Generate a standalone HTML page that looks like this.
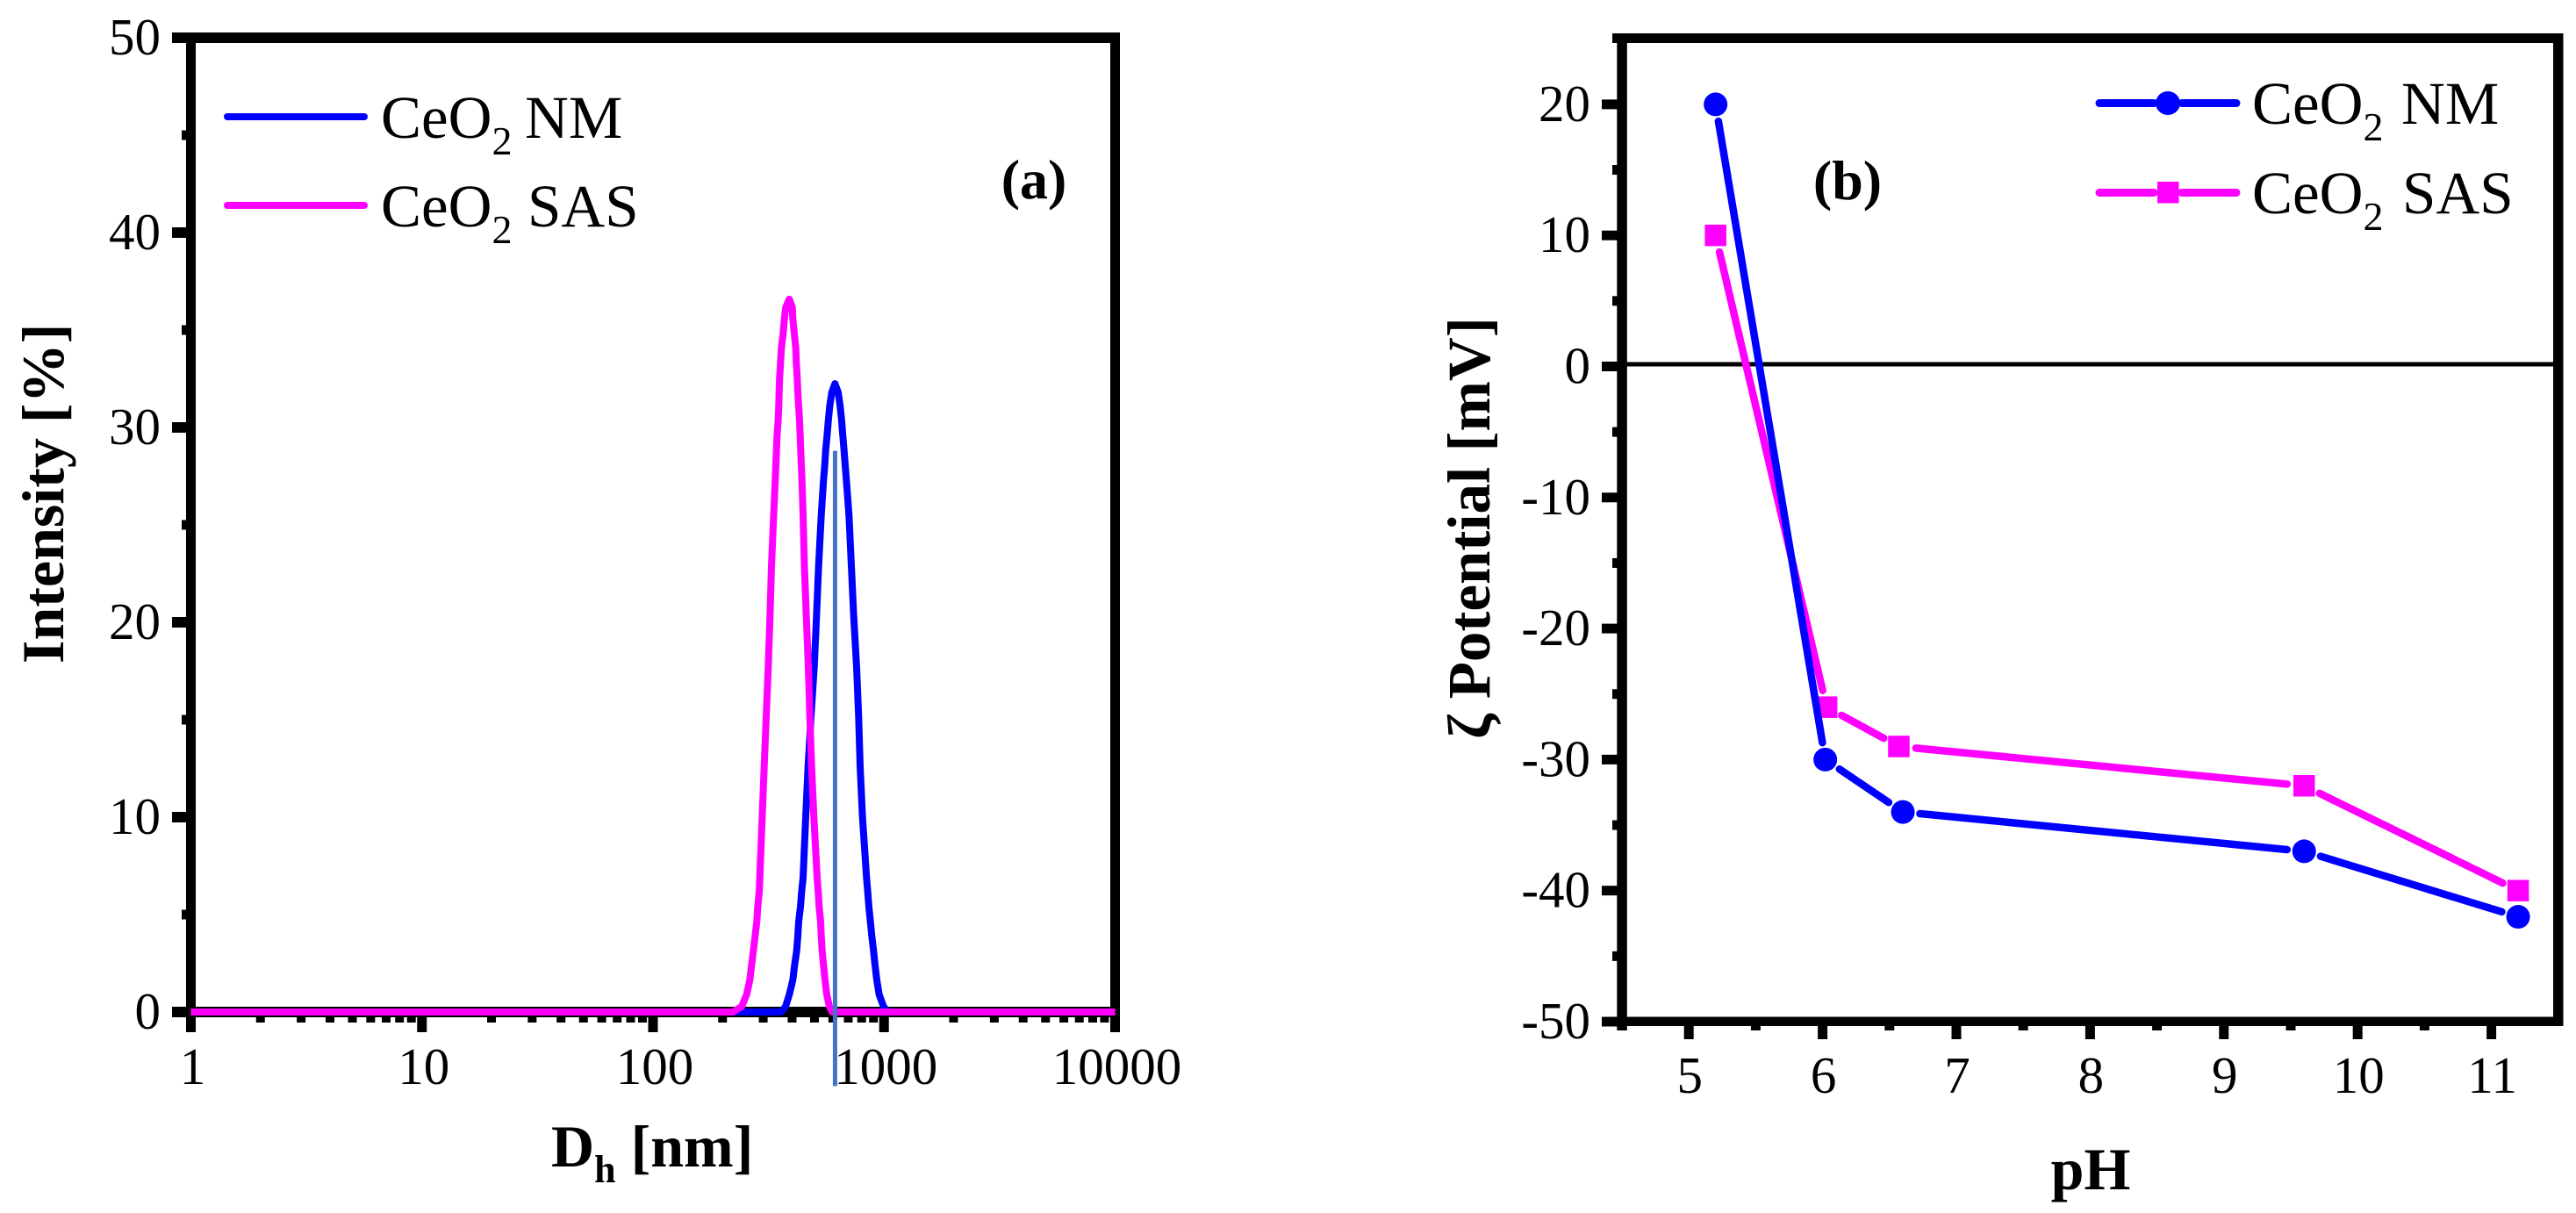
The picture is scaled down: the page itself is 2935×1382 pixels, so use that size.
<!DOCTYPE html>
<html lang="en">
<head>
<meta charset="utf-8">
<title>CeO2 size distribution and zeta potential</title>
<style>
  html, body { margin: 0; padding: 0; background: #fff; }
  svg { display: block; }
  text { font-family: "Liberation Serif", "Times New Roman", serif; fill: #000; }
  .tick { font-size: 59px; }
  .legend { font-size: 69px; }
  .sub { font-size: 46px; }
  .title { font-size: 68px; font-weight: bold; }
  .tag { font-size: 64px; font-weight: bold; }
</style>
</head>
<body>
<svg id="fig" xmlns="http://www.w3.org/2000/svg" width="2935" height="1382" viewBox="0 0 2935 1382">
  <rect x="0" y="0" width="2935" height="1382" fill="#fff"/>
  <g id="panelA"></g>
  <g id="panelB"></g>

  <text class="title" x="628" y="1329">D<tspan font-size="44" dy="18">h</tspan><tspan dy="-18"> [nm]</tspan></text>
  <text class="title" transform="translate(72,756) rotate(-90)">Intensity [%]</text>
  <text class="tag" x="1178" y="226" text-anchor="middle">(a)</text>

  <text class="legend" x="434" y="157">CeO<tspan class="sub" dy="19">2</tspan><tspan x="598" dy="-19">NM</tspan></text>
  <text class="legend" x="434" y="258">CeO<tspan class="sub" dy="19">2</tspan><tspan x="601" dy="-19">SAS</tspan></text>
  <line x1="259" y1="133" x2="415" y2="133" stroke="#0000ff" stroke-width="8" stroke-linecap="round"/>
  <line x1="259" y1="234" x2="415" y2="234" stroke="#ff00ff" stroke-width="8" stroke-linecap="round"/>

  <text class="title" x="2382" y="1355" text-anchor="middle">pH</text>
  <text class="title" style="font-size:69px" transform="translate(1697,842) rotate(-90)">ζ Potential [mV]</text>
  <text class="tag" x="2105" y="227" text-anchor="middle">(b)</text>

  <text class="legend" x="2566" y="141">CeO<tspan class="sub" dy="19">2</tspan><tspan x="2736" dy="-19">NM</tspan></text>
  <text class="legend" x="2566" y="243">CeO<tspan class="sub" dy="19">2</tspan><tspan x="2737" dy="-19">SAS</tspan></text>
  <line x1="2392" y1="117.5" x2="2454" y2="117.5" stroke="#0000ff" stroke-width="9" stroke-linecap="round"/>
  <line x1="2486" y1="117.5" x2="2548" y2="117.5" stroke="#0000ff" stroke-width="9" stroke-linecap="round"/>
  <ellipse cx="2470" cy="117.5" rx="14" ry="13.5" fill="#0000ff"/>
  <line x1="2392" y1="219.5" x2="2454" y2="219.5" stroke="#ff00ff" stroke-width="9" stroke-linecap="round"/>
  <line x1="2486" y1="219.5" x2="2548" y2="219.5" stroke="#ff00ff" stroke-width="9" stroke-linecap="round"/>
  <rect x="2458" y="207" width="24.5" height="24.5" fill="#ff00ff"/>
</svg>

<script>
// ---- Panel (a) data: log10 of hydrodynamic diameter [nm] vs intensity [%] ----
const aXTicks = [1, 10, 100, 1000, 10000];
const aYTicks = [0, 10, 20, 30, 40, 50];
const aYMinorTicks = [5, 15, 25, 35, 45];
const aXMinorFactors = [2, 3, 4, 5, 6, 7, 8, 9];
const nmLogDiameter = [0, 2.5546, 2.5736, 2.5899, 2.6051, 2.6127, 2.6218, 2.6268, 2.6306, 2.6382, 2.6432, 2.6496, 2.6610, 2.6712, 2.6838, 2.6978, 2.7077, 2.7168, 2.7282, 2.7381, 2.7434, 2.7472, 2.7533, 2.7586, 2.7647, 2.7738, 2.7875, 2.8015, 2.8103, 2.8167, 2.8217, 2.8270, 2.8319, 2.8369, 2.8483, 2.8585, 2.8688, 2.8813, 2.8900, 2.8965, 2.9068, 2.9242, 2.9296, 2.9345, 2.9410, 2.9470, 2.9546, 2.9611, 2.9687, 2.9789, 2.9979, 3.0169, 4];
const nmIntensity = [0, 0, 0.28, 0.89, 1.64, 2.39, 3.14, 3.89, 4.64, 5.39, 6.14, 6.89, 10, 12.6, 15.15, 17.7, 20.3, 22.9, 25.5, 27.31, 28.06, 28.81, 29.56, 30.32, 31.07, 31.8, 32.25, 31.8, 31.07, 30.32, 29.56, 28.81, 28.06, 27.31, 25.5, 22.9, 20.3, 17.7, 15.15, 12.6, 10, 6.89, 6.14, 5.39, 4.64, 3.89, 3.14, 2.39, 1.64, 0.89, 0.28, 0, 0];
const sasLogDiameter = [0, 2.3457, 2.3837, 2.4053, 2.4190, 2.4266, 2.4342, 2.4418, 2.4494, 2.4532, 2.4596, 2.4623, 2.4726, 2.4813, 2.4900, 2.4988, 2.5064, 2.5128, 2.5223, 2.5292, 2.5318, 2.5345, 2.5368, 2.5413, 2.5444, 2.5459, 2.5482, 2.5520, 2.5558, 2.5634, 2.5687, 2.5748, 2.5899, 2.6029, 2.6051, 2.6116, 2.6181, 2.6203, 2.6241, 2.6268, 2.6306, 2.6344, 2.6371, 2.6394, 2.6420, 2.6447, 2.6496, 2.6553, 2.6637, 2.6724, 2.6789, 2.6865, 2.6964, 2.7104, 2.7153, 2.7191, 2.7255, 2.7282, 2.7320, 2.7381, 2.7445, 2.7521, 2.7635, 2.7761, 4];
const sasIntensity = [0, 0, 0.28, 0.89, 1.64, 2.39, 3.14, 3.89, 4.64, 5.39, 6.14, 6.89, 10, 12.6, 15.15, 17.7, 20.3, 22.9, 25.5, 27.31, 28.06, 28.81, 29.56, 30.32, 31.07, 31.82, 32.57, 33.32, 34.07, 34.82, 35.57, 36.17, 36.58, 36.17, 35.57, 34.82, 34.07, 33.32, 32.57, 31.82, 31.07, 30.32, 29.56, 28.81, 28.06, 27.31, 25.5, 22.9, 20.3, 17.7, 15.15, 12.6, 10, 6.89, 6.14, 5.39, 4.64, 3.89, 3.14, 2.39, 1.64, 0.89, 0.28, 0, 0];
const refLineLogDiameter = [2.788];
const refLineRange = [-3.8, 28.8];

// ---- Panel (b) data: pH vs zeta potential [mV] ----
const bXTicks = [5, 6, 7, 8, 9, 10, 11];
const bXMinorTicks = [4.5, 5.5, 6.5, 7.5, 8.5, 9.5, 10.5];
const bYTicks = [-50, -40, -30, -20, -10, 0, 10, 20];
const bYMinorTicks = [-45, -35, -25, -15, -5, 5, 15];
const nmPH = [5.2, 6.02, 6.6, 9.6, 11.2];
const nmZeta = [20, -30, -34, -37, -42];
const sasPH = [5.2, 6.03, 6.57, 9.6, 11.2];
const sasZeta = [10, -26, -29, -32, -40];

const NS = 'http://www.w3.org/2000/svg';
function add(parent, tag, attrs, txt) {
  const el = document.createElementNS(NS, tag);
  for (const k in attrs) el.setAttribute(k, attrs[k]);
  if (txt !== undefined) el.textContent = txt;
  parent.appendChild(el);
  return el;
}
function bar(parent, x, y, w, h, name) {
  const el = add(parent, 'rect', { x: x, y: y, width: w, height: h, fill: '#000' });
  
  
  return el;
}
function label(parent, x, y, anchor, txt, name) {
  const el = add(parent, 'text', { x: x, y: y, 'text-anchor': anchor, class: 'tick' }, txt);
  
  
  return el;
}

// ---- Panel (a) ----
const A = document.getElementById('panelA');
const axLog = l => 217.5 + l * 263.25;
const ax = v => axLog(Math.log10(v));
const ay = v => 1153 - v * 22.2;

bar(A, 212, 37, 11, 1139, 'y-axis-a');
bar(A, 1265, 37, 11, 1139, 'right-border-a');
bar(A, 196, ay(50) - 6, 1080, 12, 'top-border-a');
bar(A, 196, ay(0) - 6, 1080, 12, 'x-axis-a');

aYTicks.forEach(v => {
  bar(A, 196, ay(v) - 6, 16, 12, 'y-tick-a');
  label(A, 183, ay(v) + 19, 'end', String(v), 'y-tick-label-a');
});
aYMinorTicks.forEach(v => {
  bar(A, 207, ay(v) - 5.5, 5, 11, 'y-minor-tick-a');
});
aXTicks.forEach(v => {
  bar(A, ax(v) - 5.5, 1155, 11, 21, 'x-tick-a');
  label(A, ax(v) + 2, 1235, 'middle', String(v), 'x-tick-label-a');
});
aXTicks.slice(0, -1).forEach(d => {
  aXMinorFactors.forEach(f => {
    bar(A, ax(d * f) - 5, 1155, 10, 10, 'x-minor-tick-a');
  });
});

function curve(parent, xs, ys, color, name) {
  const pts = xs.map((l, i) => axLog(l).toFixed(1) + ',' + ay(ys[i]).toFixed(1)).join(' ');
  const el = add(parent, 'polyline', { points: pts, fill: 'none', stroke: color, 'stroke-width': 8, 'stroke-linejoin': 'round' });
  
  
}
curve(A, nmLogDiameter, nmIntensity, '#0000ff', 'curve-ceo2-nm');
curve(A, sasLogDiameter, sasIntensity, '#ff00ff', 'curve-ceo2-sas');

const refLine = add(A, 'line', {
  x1: axLog(refLineLogDiameter[0]), x2: axLog(refLineLogDiameter[0]),
  y1: ay(refLineRange[0]), y2: ay(refLineRange[1]),
  stroke: '#4472c4', 'stroke-width': 5
});



// ---- Panel (b) ----
const B = document.getElementById('panelB');
const bx = v => 1848 + (v - 4.5) * 152.4;
const by = v => 417.5 - v * 14.93;

bar(B, 1842.3, 38, 11.5, 1136, 'y-axis-b');
bar(B, 2909, 38, 11.5, 1131, 'right-border-b');
bar(B, 1837, 38, 1083.5, 11, 'top-border-b');
bar(B, 1825, 1158.5, 1095.5, 10.5, 'x-axis-b');

bYTicks.forEach(v => {
  bar(B, 1825, by(v) - 5.5, 18, 11, 'y-tick-b');
  label(B, 1812, by(v) + 19, 'end', String(v), 'y-tick-label-b');
});
bYMinorTicks.forEach(v => {
  bar(B, 1837, by(v) - 5.5, 6, 11, 'y-minor-tick-b');
});
bXTicks.forEach(v => {
  bar(B, bx(v) - 5.5, 1165, 11, 19, 'x-tick-b');
  label(B, bx(v) + 1, 1245, 'middle', String(v), 'x-tick-label-b');
});
bXMinorTicks.forEach(v => {
  bar(B, bx(v) - 5.5, 1165, 11, 9, 'x-minor-tick-b');
});

bar(B, 1853, by(0) - 5, 1056, 5, 'zero-line');

function series(parent, xs, ys, color, name, drawMarker) {
  for (let i = 0; i < xs.length - 1; i++) {
    const x1 = bx(xs[i]), y1 = by(ys[i]), x2 = bx(xs[i + 1]), y2 = by(ys[i + 1]);
    const len = Math.hypot(x2 - x1, y2 - y1);
    const ux = (x2 - x1) / len, uy = (y2 - y1) / len;
    const gap = 19.5;
    const seg = add(parent, 'line', {
      x1: x1 + ux * gap, y1: y1 + uy * gap, x2: x2 - ux * gap, y2: y2 - uy * gap,
      stroke: color, 'stroke-width': 8.5, 'stroke-linecap': 'round'
    });
    
    
  }
  xs.forEach((v, i) => drawMarker(bx(v), by(ys[i])));
}
series(B, sasPH, sasZeta, '#ff00ff', 'series-ceo2-sas', (x, y) => {
  const m = add(B, 'rect', { x: x - 12.25, y: y - 12.25, width: 24.5, height: 24.5, fill: '#ff00ff' });
  
  
});
series(B, nmPH, nmZeta, '#0000ff', 'series-ceo2-nm', (x, y) => {
  const m = add(B, 'ellipse', { cx: x, cy: y, rx: 13.5, ry: 13.5, fill: '#0000ff' });
  
  
});
</script>
</body>
</html>
